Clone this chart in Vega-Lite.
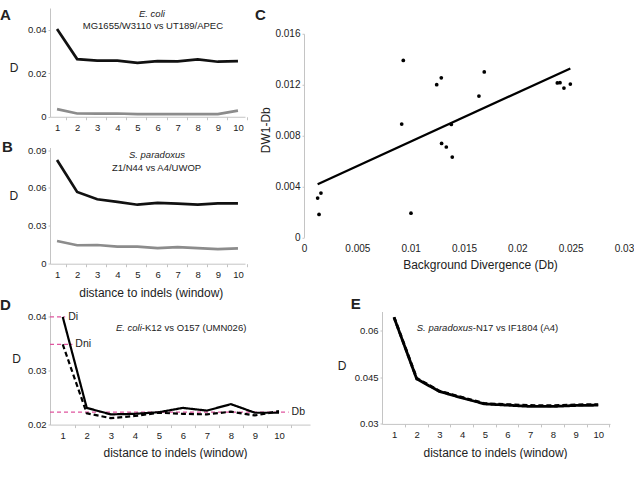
{
  "$schema": "https://vega.github.io/schema/vega-lite/v6.json",
  "padding": {"left": 0, "top": 7, "right": 0, "bottom": 0},
  "background": "white",
  "spacing": -2.5,
  "datasets": {
    "A": [
      {"w": 1, "s": "upper", "v": 0.0403}, {"w": 2, "s": "upper", "v": 0.0265}, {"w": 3, "s": "upper", "v": 0.0258}, {"w": 4, "s": "upper", "v": 0.0258}, {"w": 5, "s": "upper", "v": 0.0248},
      {"w": 6, "s": "upper", "v": 0.0256}, {"w": 7, "s": "upper", "v": 0.0255}, {"w": 8, "s": "upper", "v": 0.0264}, {"w": 9, "s": "upper", "v": 0.0253}, {"w": 10, "s": "upper", "v": 0.0256},
      {"w": 1, "s": "lower", "v": 0.0035}, {"w": 2, "s": "lower", "v": 0.0015}, {"w": 3, "s": "lower", "v": 0.0014}, {"w": 4, "s": "lower", "v": 0.0015}, {"w": 5, "s": "lower", "v": 0.0012},
      {"w": 6, "s": "lower", "v": 0.0012}, {"w": 7, "s": "lower", "v": 0.0012}, {"w": 8, "s": "lower", "v": 0.0012}, {"w": 9, "s": "lower", "v": 0.0012}, {"w": 10, "s": "lower", "v": 0.0028}
    ],
    "B": [
      {"w": 1, "s": "upper", "v": 0.0821}, {"w": 2, "s": "upper", "v": 0.0568}, {"w": 3, "s": "upper", "v": 0.051}, {"w": 4, "s": "upper", "v": 0.0489}, {"w": 5, "s": "upper", "v": 0.0467},
      {"w": 6, "s": "upper", "v": 0.0481}, {"w": 7, "s": "upper", "v": 0.0475}, {"w": 8, "s": "upper", "v": 0.0467}, {"w": 9, "s": "upper", "v": 0.0478}, {"w": 10, "s": "upper", "v": 0.0478},
      {"w": 1, "s": "lower", "v": 0.018}, {"w": 2, "s": "lower", "v": 0.0146}, {"w": 3, "s": "lower", "v": 0.0148}, {"w": 4, "s": "lower", "v": 0.0135}, {"w": 5, "s": "lower", "v": 0.0135},
      {"w": 6, "s": "lower", "v": 0.0124}, {"w": 7, "s": "lower", "v": 0.0132}, {"w": 8, "s": "lower", "v": 0.0124}, {"w": 9, "s": "lower", "v": 0.0116}, {"w": 10, "s": "lower", "v": 0.0122}
    ],
    "C": [
      {"db": 0.00128, "dw": 0.00309}, {"db": 0.00159, "dw": 0.00348}, {"db": 0.00141, "dw": 0.0018},
      {"db": 0.00916, "dw": 0.0089}, {"db": 0.00931, "dw": 0.0139}, {"db": 0.01003, "dw": 0.0019},
      {"db": 0.01244, "dw": 0.012}, {"db": 0.01287, "dw": 0.01254}, {"db": 0.0129, "dw": 0.00738},
      {"db": 0.01334, "dw": 0.0071}, {"db": 0.01381, "dw": 0.00887}, {"db": 0.0139, "dw": 0.00631},
      {"db": 0.0164, "dw": 0.0111}, {"db": 0.0169, "dw": 0.013},
      {"db": 0.02375, "dw": 0.01213}, {"db": 0.024, "dw": 0.01215}, {"db": 0.02437, "dw": 0.01173}, {"db": 0.02497, "dw": 0.01205}
    ],
    "D": [
      {"w": 1, "s": "Di", "v": 0.04}, {"w": 2, "s": "Di", "v": 0.0231}, {"w": 3, "s": "Di", "v": 0.0219}, {"w": 4, "s": "Di", "v": 0.022}, {"w": 5, "s": "Di", "v": 0.0223},
      {"w": 6, "s": "Di", "v": 0.0231}, {"w": 7, "s": "Di", "v": 0.0226}, {"w": 8, "s": "Di", "v": 0.0238}, {"w": 9, "s": "Di", "v": 0.0222}, {"w": 10, "s": "Di", "v": 0.0222},
      {"w": 1, "s": "Dni", "v": 0.0349}, {"w": 2, "s": "Dni", "v": 0.0221}, {"w": 3, "s": "Dni", "v": 0.0212}, {"w": 4, "s": "Dni", "v": 0.0216}, {"w": 5, "s": "Dni", "v": 0.0222},
      {"w": 6, "s": "Dni", "v": 0.022}, {"w": 7, "s": "Dni", "v": 0.0219}, {"w": 8, "s": "Dni", "v": 0.0224}, {"w": 9, "s": "Dni", "v": 0.0217}, {"w": 10, "s": "Dni", "v": 0.0225}
    ],
    "Dref": [
      {"label": "Di", "x1": 0.47, "x2": 1.1, "v": 0.04},
      {"label": "Dni", "x1": 0.47, "x2": 1.4, "v": 0.0349},
      {"label": "Db", "x1": 0.47, "x2": 10.4, "v": 0.0223}
    ],
    "E": [
      {"w": 1, "s": "Di", "v": 0.0641}, {"w": 2, "s": "Di", "v": 0.0444}, {"w": 3, "s": "Di", "v": 0.0404}, {"w": 4, "s": "Di", "v": 0.0383}, {"w": 5, "s": "Di", "v": 0.0364},
      {"w": 6, "s": "Di", "v": 0.036}, {"w": 7, "s": "Di", "v": 0.0356}, {"w": 8, "s": "Di", "v": 0.0356}, {"w": 9, "s": "Di", "v": 0.0359}, {"w": 10, "s": "Di", "v": 0.036},
      {"w": 1, "s": "Dni", "v": 0.0642}, {"w": 2, "s": "Dni", "v": 0.0446}, {"w": 3, "s": "Dni", "v": 0.0405}, {"w": 4, "s": "Dni", "v": 0.0385}, {"w": 5, "s": "Dni", "v": 0.0365},
      {"w": 6, "s": "Dni", "v": 0.0362}, {"w": 7, "s": "Dni", "v": 0.0359}, {"w": 8, "s": "Dni", "v": 0.0358}, {"w": 9, "s": "Dni", "v": 0.0361}, {"w": 10, "s": "Dni", "v": 0.0362}
    ]
  },
  "vconcat": [
    {
      "spacing": 7,
      "hconcat": [
        {
          "bounds": "flush",
          "spacing": 30.5,
          "vconcat": [
            {
              "width": 195,
              "height": 108.75,
              "title": {"text": "A", "dx": -50, "offset": -14.9},
              "layer": [
                {
                  "data": {"name": "A"},
                  "mark": {"type": "line", "strokeWidth": 2.7},
                  "encoding": {
                    "x": {"field": "w", "type": "quantitative", "scale": {"domain": [0.65, 10.35], "nice": false, "zero": false},
                      "axis": {"values": [1, 2, 3, 4, 5, 6, 7, 8, 9, 10], "format": "d", "tickCount": 20, "labelOverlap": false, "title": null, "tickOffset": 9, "labelOffset": -9, "tickSize": 3, "labelPadding": 2.5}},
                    "y": {"field": "v", "type": "quantitative", "scale": {"domain": [0, 0.05], "nice": false, "zero": false},
                      "axis": {"values": [0, 0.02, 0.04], "tickCount": 10, "format": "~g", "labelOverlap": false, "title": "D", "titleAngle": 0, "titleX": -36.4, "titleY": 59, "titleAlign": "center", "titleBaseline": "middle", "tickSize": 2, "labelPadding": 2}},
                    "color": {"field": "s", "type": "nominal", "scale": {"domain": ["upper", "lower"], "range": ["#111111", "#8c8c8c"]}, "legend": null}
                  }
                },
                {
                  "data": {"values": [{}]},
                  "mark": {"type": "text", "fontStyle": "italic", "fontSize": 9.5, "baseline": "alphabetic", "color": "#222222"},
                  "encoding": {"x": {"datum": 5.72}, "y": {"datum": 0.046}, "text": {"value": "E. coli"}}
                },
                {
                  "data": {"values": [{}]},
                  "mark": {"type": "text", "fontSize": 9.5, "baseline": "alphabetic", "color": "#222222"},
                  "encoding": {"x": {"datum": 5.77}, "y": {"datum": 0.0405}, "text": {"value": "MG1655/W3110 vs UT189/APEC"}}
                }
              ]
            },
            {
              "width": 195,
              "height": 116.2,
              "title": {"text": "B", "dx": -48, "offset": -9.95},
              "layer": [
                {
                  "data": {"name": "B"},
                  "mark": {"type": "line", "strokeWidth": 2.7},
                  "encoding": {
                    "x": {"field": "w", "type": "quantitative", "scale": {"domain": [0.65, 10.35], "nice": false, "zero": false},
                      "axis": {"values": [1, 2, 3, 4, 5, 6, 7, 8, 9, 10], "format": "d", "tickCount": 20, "labelOverlap": false, "title": "distance to indels (window)", "titleX": 100.8, "titleY": 28.7, "titleAlign": "center", "titleBaseline": "middle", "tickOffset": 9, "labelOffset": -9, "tickSize": 3, "labelPadding": 2.5}},
                    "y": {"field": "v", "type": "quantitative", "scale": {"domain": [0, 0.092], "nice": false, "zero": false},
                      "axis": {"values": [0, 0.03, 0.06, 0.09], "tickCount": 10, "format": "~g", "labelOverlap": false, "title": "D", "titleAngle": 0, "titleX": -36.7, "titleY": 47.7, "titleAlign": "center", "titleBaseline": "middle", "tickSize": 2, "labelPadding": 2}},
                    "color": {"field": "s", "type": "nominal", "scale": {"domain": ["upper", "lower"], "range": ["#111111", "#8c8c8c"]}, "legend": null}
                  }
                },
                {
                  "data": {"values": [{}]},
                  "mark": {"type": "text", "fontStyle": "italic", "fontSize": 9.5, "baseline": "alphabetic", "color": "#222222"},
                  "encoding": {"x": {"datum": 5.97}, "y": {"datum": 0.0835}, "text": {"value": "S. paradoxus"}}
                },
                {
                  "data": {"values": [{}]},
                  "mark": {"type": "text", "fontSize": 9.5, "baseline": "alphabetic", "color": "#222222"},
                  "encoding": {"x": {"datum": 5.95}, "y": {"datum": 0.0734}, "text": {"value": "Z1/N44 vs A4/UWOP"}}
                }
              ]
            }
          ]
        },
        {
          "bounds": "flush",
          "spacing": 24.75,
          "vconcat": [
            {"width": 320, "height": 1, "data": {"values": []}, "mark": "point", "encoding": {}},
            {
              "width": 320,
              "height": 203.6,
              "title": {"text": "C", "dx": -49, "offset": 6},
              "data": {"name": "C"},
              "layer": [
                {
                  "mark": {"type": "circle", "size": 14, "color": "#000000", "opacity": 1},
                  "encoding": {
                    "x": {"field": "db", "type": "quantitative", "scale": {"domain": [0, 0.03], "nice": false, "zero": false},
                      "axis": {"values": [0, 0.005, 0.01, 0.015, 0.02, 0.025, 0.03], "tickCount": 20, "format": "~g", "labelOverlap": false, "title": "Background Divergence (Db)", "titleX": 176, "titleY": 27, "titleAlign": "center", "titleBaseline": "middle", "domain": false, "ticks": false, "labelPadding": 6, "labelFontSize": 10}},
                    "y": {"field": "dw", "type": "quantitative", "scale": {"domain": [0, 0.016], "nice": false, "zero": false},
                      "axis": {"values": [0, 0.004, 0.008, 0.012, 0.016], "tickCount": 10, "format": "~g", "labelOverlap": false, "title": "DW1-Db", "titleX": -39, "titleY": 96, "titleAlign": "center", "titleBaseline": "middle", "tickSize": 2, "labelPadding": 2, "labelFontSize": 10}}
                  }
                },
                {
                  "transform": [{"regression": "dw", "on": "db"}],
                  "mark": {"type": "line", "color": "#000000", "strokeWidth": 2.3},
                  "encoding": {
                    "x": {"field": "db", "type": "quantitative", "title": "Background Divergence (Db)"},
                    "y": {"field": "dw", "type": "quantitative", "title": "DW1-Db"}
                  }
                }
              ]
            }
          ]
        }
      ]
    },
    {
      "bounds": "flush",
      "spacing": 72,
      "hconcat": [
        {
          "width": 260,
          "height": 113.1,
          "title": {"text": "D", "dx": -50, "offset": -1.25},
          "layer": [
            {
              "data": {"name": "Dref"},
              "mark": {"type": "rule", "color": "#e0559f", "strokeWidth": 1.2, "strokeDash": [4, 3]},
              "encoding": {
                "x": {"field": "x1", "type": "quantitative", "scale": {"domain": [0.47, 11.29], "nice": false, "zero": false},
                  "axis": {"values": [1, 2, 3, 4, 5, 6, 7, 8, 9, 10], "format": "d", "tickCount": 20, "labelOverlap": false, "title": "distance to indels (window)", "titleX": 125, "titleY": 27.7, "titleAlign": "center", "titleBaseline": "middle", "tickOffset": 12, "labelOffset": -12, "tickSize": 3, "labelPadding": 2.5}},
                "x2": {"field": "x2"},
                "y": {"field": "v", "type": "quantitative", "scale": {"domain": [0.02, 0.041], "nice": false, "zero": false},
                  "axis": {"values": [0.02, 0.03, 0.04], "tickCount": 10, "format": "~g", "labelOverlap": false, "title": "D", "titleAngle": 0, "titleX": -34, "titleY": 46.8, "titleAlign": "center", "titleBaseline": "middle", "tickSize": 2, "labelPadding": 2}}
              }
            },
            {
              "data": {"name": "Dref"},
              "mark": {"type": "text", "align": "left", "dx": 3, "fontSize": 10.5, "baseline": "middle", "color": "#222222"},
              "encoding": {
                "x": {"field": "x2", "type": "quantitative", "title": "distance to indels (window)"},
                "y": {"field": "v", "type": "quantitative", "title": "D"},
                "text": {"field": "label"}
              }
            },
            {
              "data": {"name": "D"},
              "mark": {"type": "line", "color": "#000000", "strokeWidth": 2.2},
              "encoding": {
                "x": {"field": "w", "type": "quantitative", "title": "distance to indels (window)"},
                "y": {"field": "v", "type": "quantitative", "title": "D"},
                "strokeDash": {"field": "s", "type": "nominal", "scale": {"domain": ["Di", "Dni"], "range": [[1, 0], [5, 3]]}, "legend": null}
              }
            },
            {
              "data": {"values": [{}]},
              "mark": {"type": "text", "fontStyle": "italic", "fontSize": 9.5, "align": "right", "baseline": "alphabetic", "color": "#222222"},
              "encoding": {"x": {"datum": 4.29}, "y": {"datum": 0.0373}, "text": {"value": "E. coli"}}
            },
            {
              "data": {"values": [{}]},
              "mark": {"type": "text", "fontSize": 9.5, "align": "left", "baseline": "alphabetic", "color": "#222222"},
              "encoding": {"x": {"datum": 4.29}, "y": {"datum": 0.0373}, "text": {"value": "-K12 vs O157 (UMN026)"}}
            }
          ]
        },
        {
          "width": 228,
          "height": 112.4,
          "title": {"text": "E", "dx": -31.3, "offset": -0.55},
          "layer": [
            {
              "data": {"name": "E"},
              "mark": {"type": "line", "color": "#000000", "strokeWidth": 2.8},
              "encoding": {
                "x": {"field": "w", "type": "quantitative", "scale": {"domain": [0.47, 10.52], "nice": false, "zero": false},
                  "axis": {"values": [1, 2, 3, 4, 5, 6, 7, 8, 9, 10], "format": "d", "tickCount": 20, "labelOverlap": false, "title": "distance to indels (window)", "titleX": 113, "titleY": 28.4, "titleAlign": "center", "titleBaseline": "middle", "tickOffset": 11, "labelOffset": -11, "tickSize": 3, "labelPadding": 2.5}},
                "y": {"field": "v", "type": "quantitative", "scale": {"domain": [0.03, 0.066], "nice": false, "zero": false},
                  "axis": {"values": [0.03, 0.045, 0.06], "tickCount": 10, "format": "~g", "labelOverlap": false, "title": "D", "titleAngle": 0, "titleX": -40.3, "titleY": 53.9, "titleAlign": "center", "titleBaseline": "middle", "tickSize": 2, "labelPadding": 2}},
                "strokeDash": {"field": "s", "type": "nominal", "scale": {"domain": ["Di", "Dni"], "range": [[1, 0], [5, 3]]}, "legend": null}
              }
            },
            {
              "data": {"values": [{}]},
              "mark": {"type": "text", "fontStyle": "italic", "fontSize": 9.5, "align": "right", "baseline": "alphabetic", "color": "#222222"},
              "encoding": {"x": {"datum": 4.47}, "y": {"datum": 0.0597}, "text": {"value": "S. paradoxus"}}
            },
            {
              "data": {"values": [{}]},
              "mark": {"type": "text", "fontSize": 9.5, "align": "left", "baseline": "alphabetic", "color": "#222222"},
              "encoding": {"x": {"datum": 4.47}, "y": {"datum": 0.0597}, "text": {"value": "-N17 vs IF1804 (A4)"}}
            }
          ]
        }
      ]
    }
  ],
  "config": {
    "font": "Liberation Sans",
    "view": {"stroke": null},
    "axis": {"grid": false, "labelOverlap": false, "labelFlush": false, "labelBound": false, "domainColor": "#c4c4c4", "tickColor": "#c4c4c4", "labelColor": "#222222", "labelFontSize": 9.5, "titleFontSize": 12, "titleFontWeight": "normal", "titleColor": "#222222", "labelFont": "Liberation Sans", "titleFont": "Liberation Sans"},
    "title": {"font": "Liberation Sans", "fontSize": 15, "fontWeight": "bold", "anchor": "start", "frame": "group", "baseline": "top", "color": "#222222"}
  }
}
